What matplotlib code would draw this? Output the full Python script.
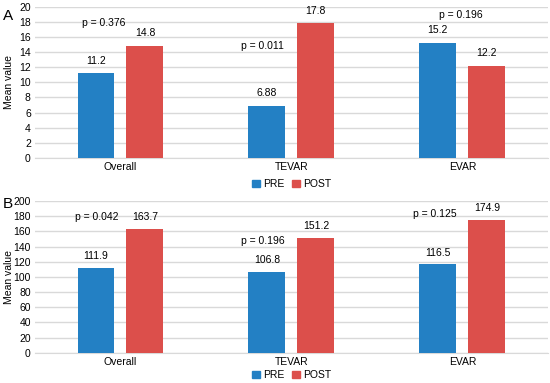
import matplotlib.pyplot as plt
import numpy as np
from matplotlib.patches import Patch

plt.rcParams['font.family'] = ['Liberation Sans', 'DejaVu Sans']

categories = ['Overall', 'TEVAR', 'EVAR']
pre_a = [11.2, 6.88, 15.2]
post_a = [14.8, 17.8, 12.2]
pvals_a = ['p = 0.376', 'p = 0.011', 'p = 0.196']
pval_y_a = [17.8, 14.8, 18.9]

pre_b = [111.9, 106.8, 116.5]
post_b = [163.7, 151.2, 174.9]
pvals_b = ['p = 0.042', 'p = 0.196', 'p = 0.125']
pval_y_b = [179, 148, 183]

BLUE = '#2380C4'
RED = '#DC4F4B'
GRID = '#D9D9D9'


def draw_panel(ax, pre, post, pvals, pval_y, ymax, step, off, pval_x):
    x = np.arange(len(categories))
    w = 0.216
    d = 0.143
    ax.bar(x - d, pre, w, color=BLUE, zorder=3)
    ax.bar(x + d, post, w, color=RED, zorder=3)
    for xi, v in zip(x - d, pre):
        ax.text(xi, v + off, f'{v:g}', ha='center', va='bottom', fontsize=7.5)
    for xi, v in zip(x + d, post):
        ax.text(xi, v + off, f'{v:g}', ha='center', va='bottom', fontsize=7.5)
    for xi, yi, t in zip(pval_x, pval_y, pvals):
        ax.text(xi, yi, t, ha='center', va='center', fontsize=7.5)
    ax.set_xlim(-0.5, 2.5)
    ax.set_ylim(0, ymax)
    ax.set_yticks(np.arange(0, ymax + step, step))
    ax.set_xticks(x)
    ax.set_xticklabels(categories)
    ax.tick_params(length=0, labelsize=7.5, pad=3)
    ax.yaxis.grid(True, color=GRID, lw=1, zorder=0)
    ax.set_axisbelow(True)
    for s in ['top', 'right', 'left']:
        ax.spines[s].set_visible(False)
    ax.spines['bottom'].set_color(GRID)


fig = plt.figure(figsize=(5.5, 3.83), dpi=100)
ax_a = fig.add_axes([0.0636, 0.5875, 0.9324, 0.395])
ax_b = fig.add_axes([0.0636, 0.079, 0.9324, 0.396])

draw_panel(ax_a, pre_a, post_a, pvals_a, pval_y_a, 20, 2, 1.0,
           [-0.1, 0.83, 1.99])
draw_panel(ax_b, pre_b, post_b, pvals_b, pval_y_b, 200, 20, 9,
           [-0.14, 0.83, 1.84])

# panel letters and y labels
fig.text(8 / 550, 1 - 16 / 383, 'A', fontsize=11, ha='center', va='center')
fig.text(8 / 550, 1 - 204 / 383, 'B', fontsize=11, ha='center', va='center')
fig.text(9 / 550, 1 - 82 / 383, 'Mean value', rotation=90, fontsize=7.5,
         ha='center', va='center')
fig.text(9 / 550, 1 - 277 / 383, 'Mean value', rotation=90, fontsize=7.5,
         ha='center', va='center')

handles = [Patch(color=BLUE, label='PRE'), Patch(color=RED, label='POST')]
for yl in [0.52, 0.021]:
    fig.legend(handles=handles, loc='center', bbox_to_anchor=(0.53, yl),
               ncol=2, frameon=False, fontsize=7.5, handlelength=0.7,
               handleheight=0.7, handletextpad=0.3, columnspacing=0.8)

plt.savefig('out.png', dpi=100)
plt.close()
